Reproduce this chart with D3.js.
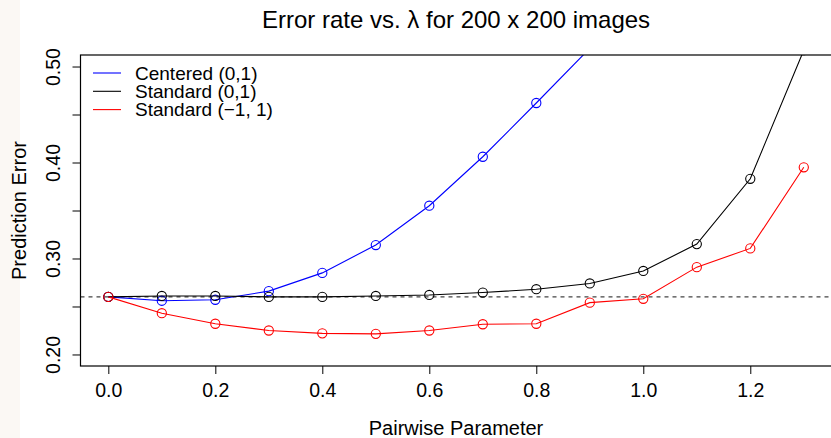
<!DOCTYPE html>
<html lang="en">
<head>
<meta charset="UTF-8">
<title>Error rate</title>
<script src="https://cdnjs.cloudflare.com/ajax/libs/d3/7.8.5/d3.min.js"></script>
<style>
  body { margin: 0; background: #fff; }
  svg text { font-family: "Liberation Sans", Arial, Helvetica, sans-serif; fill: #000; }
</style>
</head>
<body>
<script>
// data
const lambda = [0, 0.1, 0.2, 0.3, 0.4, 0.5, 0.6, 0.7, 0.8, 0.9, 1.0, 1.1, 1.2, 1.3]
const centered = [0.260, 0.256, 0.257, 0.266, 0.285, 0.314, 0.355, 0.406, 0.462, 0.519]
const standard01 = [0.260, 0.261, 0.261, 0.260, 0.260, 0.261, 0.262, 0.2645, 0.268, 0.274, 0.287, 0.315, 0.383, 0.517]
const standardNeg = [0.260, 0.243, 0.232, 0.225, 0.222, 0.2215, 0.225, 0.2315, 0.232, 0.254, 0.258, 0.291, 0.3105, 0.395]
const baseline = 0.26

const xTicks = [0, 0.2, 0.4, 0.6, 0.8, 1.0, 1.2]
const yTicks = [0.20, 0.25, 0.30, 0.35, 0.40, 0.45, 0.50]
const yLabelled = [0.20, 0.30, 0.40, 0.50]

const series = [
    { name: "Centered (0,1)", values: centered, color: "#0000ff" },
    { name: "Standard (0,1)", values: standard01, color: "#000000" },
    { name: "Standard (\u22121, 1)", values: standardNeg, color: "#ff0000" }
]

let width = 831
let height = 438
let mLeft = 80.5, mRight = 831.6, mTop = 55, mBottom = 366

let svg = d3.select("body").append("svg")
    .attr("width", width)
    .attr("height", height)

svg.append("rect").attr("x", 0).attr("y", 0).attr("width", 20).attr("height", height).attr("fill", "#fbf8f4")

let x = d3.scaleLinear().domain([-0.052, 1.352]).range([mLeft, mRight])
let y = d3.scaleLinear().domain([0.188, 0.512]).range([mBottom, mTop])

svg.append("clipPath").attr("id", "plot")
    .append("rect")
    .attr("x", mLeft).attr("y", mTop)
    .attr("width", mRight - mLeft).attr("height", mBottom - mTop)

// axes
let xAxis = svg.append("g")
    .attr("transform", `translate(0,${mBottom})`)
    .call(d3.axisBottom(x).tickValues(xTicks).tickSize(8).tickPadding(9).tickFormat(d3.format(".1f")))
xAxis.select(".domain").remove()
xAxis.selectAll("text").attr("font-size", 19.5).attr("font-family", null)

let yAxis = svg.append("g")
    .attr("transform", `translate(${mLeft},0)`)
    .call(d3.axisLeft(y).tickValues(yTicks).tickSize(8)
        .tickFormat(d => yLabelled.some(v => Math.abs(v - d) < 1e-9) ? d3.format(".2f")(d) : ""))
yAxis.select(".domain").remove()
yAxis.selectAll("text")
    .attr("font-size", 19.5).attr("font-family", null)
    .attr("x", null).attr("dy", null)
    .attr("text-anchor", "middle")
    .attr("transform", `translate(-20.5,0) rotate(-90)`)

// reference line
svg.append("line")
    .attr("x1", mLeft).attr("x2", mRight)
    .attr("y1", y(baseline)).attr("y2", y(baseline))
    .attr("stroke", "#444").attr("stroke-width", 1.2)
    .attr("stroke-dasharray", "4,4")

let plot = svg.append("g").attr("clip-path", "url(#plot)")

let line = d3.line().x((d, i) => x(lambda[i])).y(d => y(d))

series.forEach(s => {
    plot.append("path")
        .attr("d", line(s.values))
        .attr("fill", "none")
        .attr("stroke", s.color)
        .attr("stroke-width", 1.1)
    plot.selectAll(null).data(s.values).enter().append("circle")
        .attr("cx", (d, i) => x(lambda[i]))
        .attr("cy", d => y(d))
        .attr("r", 4.6)
        .attr("fill", "none")
        .attr("stroke", s.color)
        .attr("stroke-width", 1.1)
})

// frame
svg.append("rect")
    .attr("x", mLeft).attr("y", mTop)
    .attr("width", mRight - mLeft).attr("height", mBottom - mTop)
    .attr("fill", "none").attr("stroke", "#000").attr("stroke-width", 1.2)

// legend
let legend = svg.append("g")
series.forEach((s, i) => {
    let ly = 73 + i * 18.3
    legend.append("line")
        .attr("x1", 93).attr("x2", 121)
        .attr("y1", ly).attr("y2", ly)
        .attr("stroke", s.color).attr("stroke-width", 1.1)
    legend.append("text")
        .attr("x", 135).attr("y", ly)
        .attr("dy", "0.36em")
        .attr("font-size", 19)
        .text(s.name)
})

// titles
svg.append("text")
    .attr("x", (mLeft + mRight) / 2).attr("y", 28)
    .attr("text-anchor", "middle")
    .attr("font-size", 24)
    .text("Error rate vs. \u03bb for 200 x 200 images")

svg.append("text")
    .attr("x", (mLeft + mRight) / 2).attr("y", 435)
    .attr("text-anchor", "middle")
    .attr("font-size", 20)
    .text("Pairwise Parameter")

svg.append("text")
    .attr("transform", `translate(26,${(mTop + mBottom) / 2}) rotate(-90)`)
    .attr("text-anchor", "middle")
    .attr("font-size", 20)
    .text("Prediction Error")
</script>
</body>
</html>
